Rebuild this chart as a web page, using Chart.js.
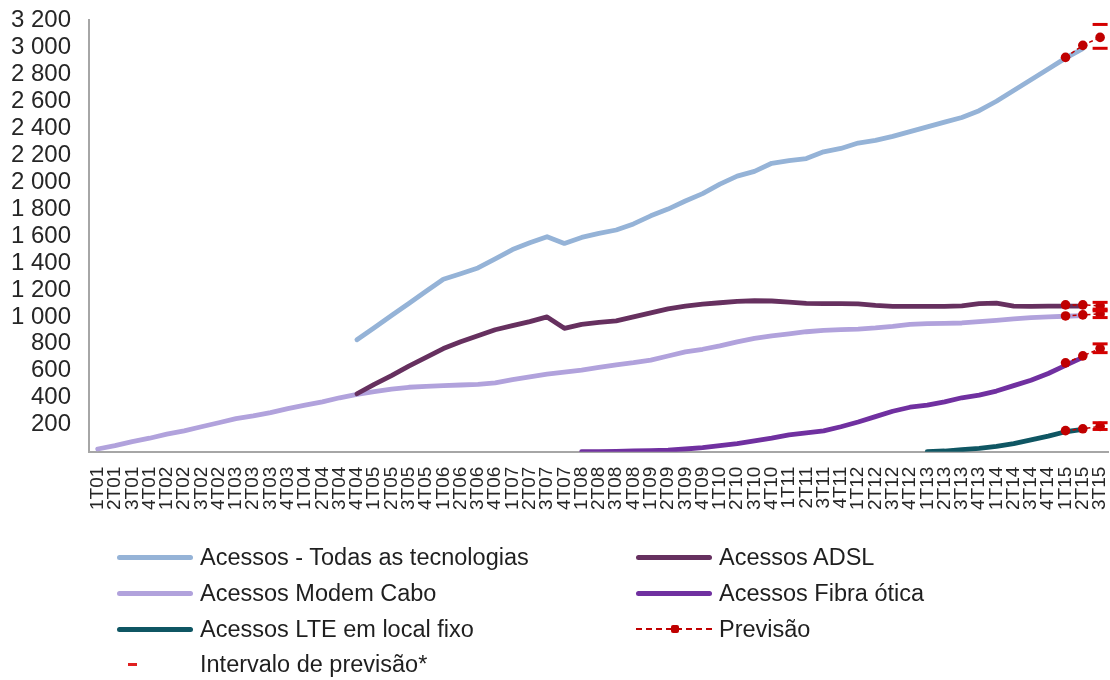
<!DOCTYPE html>
<html><head><meta charset="utf-8">
<script src="https://cdn.jsdelivr.net/npm/chart.js@4/dist/chart.umd.min.js"></script>
<style>
html,body{margin:0;padding:0;background:#fff;}
#wrap{position:relative;width:1110px;height:680px;overflow:hidden;}
#c{position:absolute;left:-13px;top:-12px;}
.leg{position:absolute;font-family:"Liberation Sans",Arial,sans-serif;font-size:23.5px;color:#1f1f1f;line-height:24px;height:24px;white-space:nowrap;}
.sw{position:absolute;height:5px;border-radius:3px;width:76px;}
.tx{position:absolute;top:0;}
</style></head>
<body>
<div id="wrap">
<canvas id="c" width="1151" height="680"></canvas>
<div id="legend"></div>
</div>
<script>
const quarters = ["1T01","2T01","3T01","4T01","1T02","2T02","3T02","4T02","1T03","2T03","3T03","4T03",
"1T04","2T04","3T04","4T04","1T05","2T05","3T05","4T05","1T06","2T06","3T06","4T06",
"1T07","2T07","3T07","4T07","1T08","2T08","3T08","4T08","1T09","2T09","3T09","4T09",
"1T10","2T10","3T10","4T10","1T11","2T11","3T11","4T11","1T12","2T12","3T12","4T12",
"1T13","2T13","3T13","4T13","1T14","2T14","3T14","4T14","1T15","2T15","3T15"];

const yTicks = [200,400,600,800,1000,1200,1400,1600,1800,2000,2200,2400,2600,2800,3000,3200];

// Series values (start quarter given separately; last actual quarter 2T15)
const todasStart = "4T04";
const todas = [830,920,1010,1100,1190,1280,1320,1363,1430,1500,1550,1595,1545,1590,1620,1645,1690,1750,1800,1860,1915,1985,2045,2080,2140,2160,2175,2225,2250,2290,2310,2340,2375,2410,2445,2480,2530,2600,2680,2760,2840,2920,2990];
const adslStart = "4T04";
const adsl = [430,500,565,635,700,765,815,860,905,935,965,1000,915,945,960,970,1000,1030,1060,1080,1095,1105,1115,1120,1118,1110,1100,1098,1098,1097,1085,1078,1078,1078,1078,1082,1098,1102,1080,1078,1080,1080,1080];
const caboStart = "1T01";
const cabo = [20,45,75,100,130,155,185,215,245,265,290,320,345,370,400,425,445,465,478,485,490,495,500,510,535,555,575,590,605,625,645,660,680,710,740,760,785,815,840,860,875,890,900,905,910,918,930,945,950,952,955,965,975,985,995,1000,1005,1010];
const fibraStart = "1T08";
const fibra = [0,0,2,5,8,12,20,30,45,60,80,100,125,140,155,185,220,260,300,330,345,370,400,420,450,490,530,580,640,700];
const lteStart = "1T13";
const lte = [0,5,15,25,40,60,88,115,148,165];

// Forecast (1T15, 2T15, 3T15)
const prevQuarters = ["1T15","2T15","3T15"];
const prevTodas = [2926,3015,3074];
const prevAdsl = [1089,1089,1082];
const prevCabo = [1007,1015,1022];
const prevFibra = [659,711,765];
const prevLte = [156,170,188];

// Forecast interval at 3T15: [lower, upper]
const intQuarter = "3T15";
const intTodas = [2993,3170];
const intAdsl = [1058,1108];
const intCabo = [995,1045];
const intFibra = [735,800];
const intLte = [165,215];

function place(start, vals){
  const out = new Array(quarters.length).fill(null);
  const s = quarters.indexOf(start);
  vals.forEach((v,i)=>{ out[s+i]=v; });
  return out;
}
function placeAt(qs, vals){
  const out = new Array(quarters.length).fill(null);
  qs.forEach((q,i)=>{ out[quarters.indexOf(q)] = vals[i]; });
  return out;
}

const RED = '#C00000';
const mainStyle = (label, color, data) => ({
  label, data, borderColor: color, backgroundColor: color, borderWidth: 4.8,
  pointRadius: 0, tension: 0, borderCapStyle:'round', borderJoinStyle:'round', spanGaps:false, fill:false
});
const prevStyle = (data) => ({
  label:'Previsão', data, borderColor: RED, backgroundColor: RED, borderWidth: 1.5,
  borderDash:[4,3], pointRadius: 4.8, pointBackgroundColor: RED, pointBorderColor: RED, pointBorderWidth:0,
  tension:0, fill:false, clip:false
});
const intData = [intTodas,intAdsl,intCabo,intFibra,intLte].flatMap(p => p.map(v => ({x:intQuarter, y:v})));

const datasets = [
  {label:'Intervalo de previsão*', data:intData, showLine:false, pointStyle:'line', pointRadius:7.5,
   pointBorderWidth:3, pointBorderColor:'#D40000', pointBackgroundColor:'#D40000', clip:false},
  prevStyle(placeAt(prevQuarters, prevTodas)),
  prevStyle(placeAt(prevQuarters, prevAdsl)),
  prevStyle(placeAt(prevQuarters, prevCabo)),
  prevStyle(placeAt(prevQuarters, prevFibra)),
  prevStyle(placeAt(prevQuarters, prevLte)),
  mainStyle('Acessos - Todas as tecnologias', '#95B3D7', place(todasStart, todas)),
  mainStyle('Acessos ADSL', '#66305F', place(adslStart, adsl)),
  mainStyle('Acessos Modem Cabo', '#B1A2DC', place(caboStart, cabo)),
  mainStyle('Acessos Fibra ótica', '#7030A0', place(fibraStart, fibra)),
  mainStyle('Acessos LTE em local fixo', '#0F5663', place(lteStart, lte))
];

function fmt(v){
  if (v === 0) return '';
  if (v >= 1000){ const r = v % 1000; return Math.floor(v/1000) + ' ' + String(r).padStart(3,'0'); }
  return String(v);
}

new Chart(document.getElementById('c'), {
  type:'line',
  data:{labels:quarters, datasets},
  options:{
    responsive:false, animation:false, devicePixelRatio:1,
    layout:{padding:{left:6, top:9, right:2, bottom:143}},
    plugins:{legend:{display:false}, tooltip:{enabled:false}},
    scales:{
      x:{offset:true, grid:{display:false, drawTicks:false},
         border:{display:true, color:'#A6A6A6', width:2},
         ticks:{autoSkip:false, maxRotation:90, minRotation:90, padding:15, color:'#262626',
                font:{family:'"Liberation Sans", Arial, sans-serif', size:19}}},
      y:{min:0, max:3200, grid:{display:false, drawTicks:false},
         border:{display:true, color:'#A6A6A6', width:2},
         afterBuildTicks: ax => { ax.ticks = [0].concat(yTicks).map(v=>({value:v})); },
         ticks:{autoSkip:false, padding:18, color:'#262626', callback: v => fmt(v),
                font:{family:'"Liberation Sans", Arial, sans-serif', size:24}}}
    }
  }
});

// HTML legend
const legendItems = [
  {x:117, y:545, type:'line', color:'#95B3D7', text:'Acessos - Todas as tecnologias'},
  {x:636, y:545, type:'line', color:'#66305F', text:'Acessos ADSL'},
  {x:117, y:581, type:'line', color:'#B1A2DC', text:'Acessos Modem Cabo'},
  {x:636, y:581, type:'line', color:'#7030A0', text:'Acessos Fibra ótica'},
  {x:117, y:617, type:'line', color:'#0F5663', text:'Acessos LTE em local fixo'},
  {x:636, y:617, type:'prev', color:RED, text:'Previsão'},
  {x:117, y:652, type:'int', color:'#E02020', text:'Intervalo de previsão*'}
];
const L = document.getElementById('legend');
legendItems.forEach(it=>{
  const d = document.createElement('div');
  d.className='leg'; d.style.left = it.x+'px'; d.style.top = it.y+'px';
  let sw = '';
  if (it.type==='line') sw = `<div class="sw" style="left:0;top:10px;background:${it.color}"></div>`;
  else if (it.type==='prev') sw = `<div style="position:absolute;left:0;top:11px;width:76px;border-top:2px dashed ${it.color}"></div><div style="position:absolute;left:35px;top:8px;width:8px;height:8px;border-radius:2px;background:${it.color}"></div>`;
  else sw = `<div style="position:absolute;left:11px;top:11px;width:9px;height:2.5px;background:${it.color}"></div>`;
  d.innerHTML = sw + `<span class="tx" style="left:83px">${it.text}</span>`;
  L.appendChild(d);
});
</script>
</body></html>
